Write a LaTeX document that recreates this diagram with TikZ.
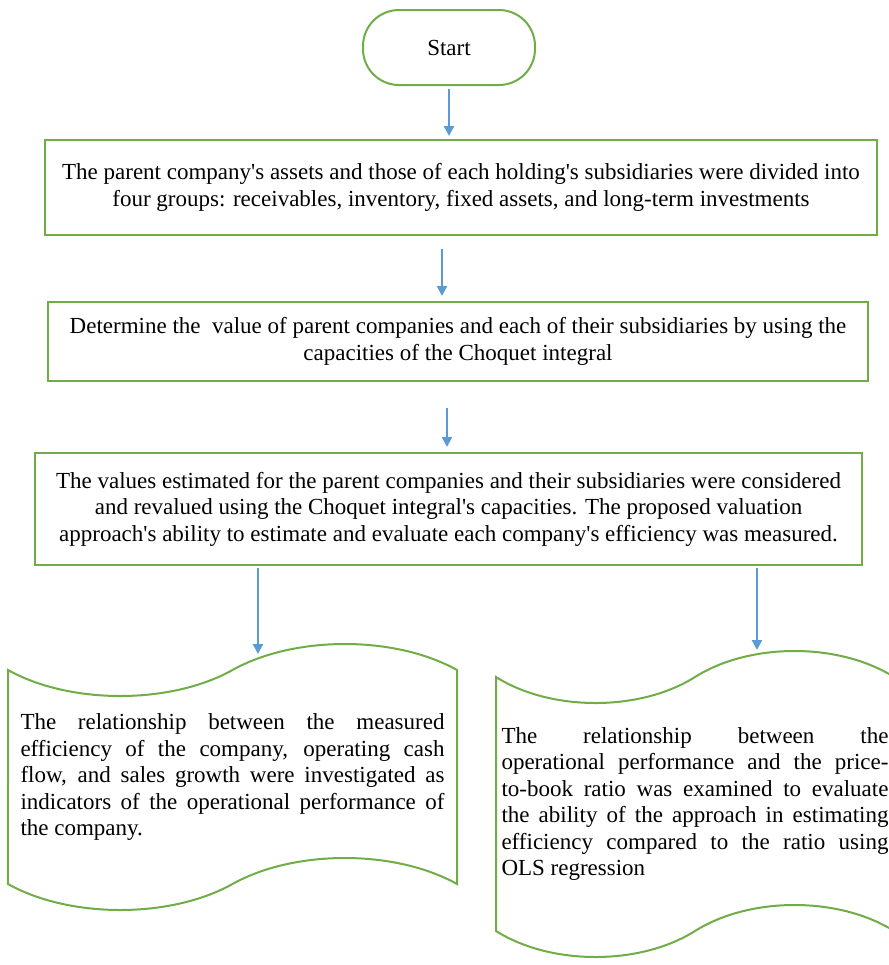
\documentclass[tikz,border=0pt]{standalone}
\usepackage{fontspec}
\setmainfont{Liberation Serif}
\usetikzlibrary{arrows.meta,shapes.symbols}
\definecolor{boxgreen}{HTML}{70AD47}
\definecolor{flowblue}{HTML}{5B9BD5}
\tikzset{
  stepbox/.style={draw=boxgreen,line width=1pt,fill=white,align=center,inner sep=0pt,
    font=\fontsize{11.5}{13.25}\selectfont},
  tapebox/.style={shape=tape,draw=boxgreen,line width=1pt,fill=white,align=justify,
    inner xsep=2pt,inner ysep=0pt,tape bend height=26pt,
    font=\fontsize{11.5}{13.25}\selectfont},
  flow/.style={draw=flowblue,line width=1.1pt,-{Triangle[length=5pt,width=5pt]}}
}
\begin{document}
\begin{tikzpicture}[x=0.5pt,y=-0.5pt]
  \useasboundingbox (0,0) rectangle (889,965);
  \clip (0,0) rectangle (889,965);
  \draw
    (449,47.5) node[stepbox,rounded corners=18pt,minimum width=86pt,minimum height=37.5pt] (0) {Start}
    (461,187.5) node[stepbox,minimum width=416pt,minimum height=47.5pt] (1)
      {The parent company\textquotesingle s assets and those of each holding\textquotesingle s subsidiaries were divided into\\
       four groups: receivables, inventory, fixed assets, and long-term investments}
    (458,341.5) node[stepbox,minimum width=410pt,minimum height=39.5pt] (2)
      {Determine the \ value of parent companies and each of their subsidiaries by using the\\
       capacities of the Choquet integral}
    (448.5,509) node[stepbox,minimum width=413.5pt,minimum height=56pt] (3)
      {The values estimated for the parent companies and their subsidiaries were considered\\
       and revalued using the Choquet integral\textquotesingle s capacities. The proposed valuation\\
       approach\textquotesingle s ability to estimate and evaluate each company\textquotesingle s efficiency was measured.}
    (232.5,777) node[tapebox,minimum width=224.5pt,minimum height=133pt,text width=212pt] (4)
      {The relationship between the measured\linebreak
       efficiency of the company, operating cash\linebreak
       flow, and sales growth were investigated as\linebreak
       indicators of the operational performance of\linebreak
       the company.}
    (695,804) node[tapebox,minimum width=199pt,minimum height=153pt,text width=193.5pt] (5)
      {The relationship between the\linebreak
       operational performance and the price-\linebreak
       to-book ratio was examined to evaluate\linebreak
       the ability of the approach in estimating\linebreak
       efficiency compared to the ratio using\linebreak
       OLS regression};
  \coordinate (4top) at (258,654);
  \coordinate (5top) at (757,650);
  \begin{scope}[flow]
    \draw[shorten <=1.5pt,shorten >=1.5pt] (0.south) to (0.south |- 1.north);
    \draw[shorten <=6.5pt,shorten >=2.5pt] (442,0 |- 1.south) to (442,0 |- 2.north);
    \draw[shorten <=13pt,shorten >=2.5pt] (447,0 |- 2.south) to (447,0 |- 3.north);
    \draw[shorten <=1pt] (4top |- 3.south) to (4top);
    \draw[shorten <=1pt] (5top |- 3.south) to (5top);
  \end{scope}
\end{tikzpicture}
\end{document}
